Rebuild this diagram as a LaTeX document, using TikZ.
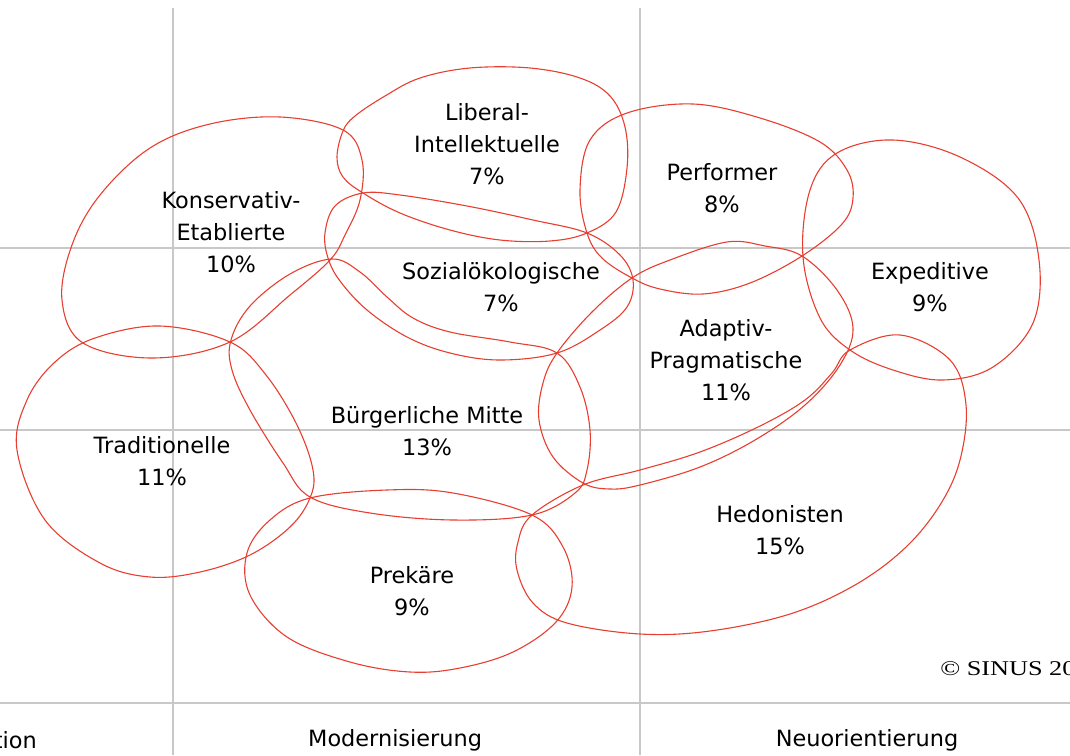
\documentclass[tikz,border=0pt]{standalone}
\usepackage{fontspec}
\setmainfont{DejaVu Sans}
\newfontfamily\copyfont{Liberation Serif}
\usepackage{tikz}
\usetikzlibrary{positioning,calc}

\definecolor{milieured}{RGB}{232,62,48}
\definecolor{gridgray}{RGB}{200,200,200}

\tikzset{
    milieu/.style={draw=milieured, line width=1.1pt, smooth cycle, tension=0.6},
    axis/.style={draw=gridgray, line width=1.6pt},
    lbl/.style={align=center, inner sep=0pt, font=\fontsize{22.4}{32}\selectfont},
    axislbl/.style={inner sep=0pt, font=\fontsize{22.4}{26}\selectfont}
}

\begin{document}
\begin{tikzpicture}[x=1pt, y=-1pt]
    \useasboundingbox (0,0) rectangle (1070,755);
    \clip (0,0) rectangle (1070,755);

    % grid
    \draw[axis] (173,8) -- (173,755);
    \draw[axis] (640,8) -- (640,755);
    \draw[axis] (0,248) -- (1070,248);
    \draw[axis] (0,430) -- (1070,430);
    \draw[axis] (0,703) -- (1070,703);

    % milieus
    %Konservativ-Etablierte
    \draw[milieu] plot coordinates {(280,117) (343,130) (362,160) (360,200) (345,235) (330,260) (290,295) (230,342) (153,358) (83,343) (62,300) (72,245) (100,195) (150,148) (210,124)};
    %Liberal-Intellektuelle
    \draw[milieu] plot coordinates {(337,157) (343,131) (355,116) (385,96) (420,78) (470,68) (530,68) (580,78) (610,96) (625,127) (627,168) (616,212) (587,233) (550,241) (500,240) (450,230) (400,213) (363,193) (343,177)};
    %Performer
    \draw[milieu] plot coordinates {(587,233) (580,190) (590,140) (627,113) (693,104) (760,118) (820,142) (847,170) (853,198) (842,224) (802,256) (750,283) (703,294) (660,289) (632,278) (602,258)};
    %Expeditive
    \draw[milieu] plot coordinates {(837,153) (893,140) (960,157) (1018,198) (1039,260) (1033,323) (993,367) (943,380) (893,370) (850,350) (820,318) (803,257) (810,190)};
    %Sozialoekologische
    \draw[milieu] plot coordinates {(325,233) (335,206) (363,193) (400,195) (467,206) (533,220) (587,233) (620,255) (633,280) (627,307) (600,330) (557,353) (500,360) (450,353) (407,337) (367,310) (340,281) (328,258)};
    %Adaptiv-Pragmatische
    \draw[milieu] plot coordinates {(557,353) (592,312) (632,278) (670,260) (727,242) (765,246) (802,256) (837,290) (853,328) (840,365) (805,405) (755,440) (700,467) (640,485) (610,489) (583,483) (553,457) (539,420) (543,383)};
    %Buergerliche Mitte
    \draw[milieu] plot coordinates {(332,259) (360,272) (387,297) (413,318) (450,332) (510,342) (557,353) (580,387) (590,430) (587,470) (575,493) (532,515) (453,520) (370,513) (310,497) (283,463) (250,410) (232,370) (231,340) (250,306) (290,274)};
    %Traditionelle
    \draw[milieu] plot coordinates {(160,326) (230,342) (266,375) (297,425) (313,470) (310,498) (290,527) (250,555) (200,572) (150,577) (100,563) (45,520) (17,450) (27,400) (55,362) (95,338)};
    %Prekaere
    \draw[milieu] plot coordinates {(310,498) (387,490) (453,493) (532,515) (563,547) (572,587) (556,622) (513,652) (460,668) (410,672) (350,662) (287,637) (250,595) (247,553) (270,520)};
    %Hedonisten
    \draw[milieu] plot coordinates {(850,350) (900,335) (950,360) (966,405) (960,460) (940,505) (905,548) (855,585) (790,614) (710,631) (640,634) (567,623) (533,603) (517,570) (518,542) (532,515) (583,485) (640,470) (700,452) (760,426) (805,400) (832,373)};

    % labels
    \node[lbl] (konservativ) at (231,232) {Konservativ-\\Etablierte\\10\%};
    \node[lbl] (liberal) at (487,144) {Liberal-\\Intellektuelle\\7\%};
    \node[lbl] (performer) at (722,188) {Performer\\8\%};
    \node[lbl] (sozial) at (501,287) {Sozialökologische\\7\%};
    \node[lbl] (expeditive) at (930,287) {Expeditive\\9\%};
    \node[lbl] (adaptiv) at (726,360) {Adaptiv-\\Pragmatische\\11\%};
    \node[lbl] (mitte) at (427,431) {Bürgerliche Mitte\\13\%};
    \node[lbl] (traditionelle) at (162,461) {Traditionelle\\11\%};
    \node[lbl] (hedonisten) at (780,530) {Hedonisten\\15\%};
    \node[lbl] (prekaere) at (412,591) {Prekäre\\9\%};

    \node[anchor=west, inner sep=0pt, xscale=1.25, transform shape, font=\copyfont\fontsize{21}{22}\selectfont] (sinus) at (940,669) {© SINUS 2018};

    % axis captions
    \node[axislbl, anchor=east] (tradition) at (37,740) {Tradition};
    \node[axislbl, anchor=west] (modern) at (308,740) {Modernisierung};
    \node[axislbl] (neu) at (867,740) {Neuorientierung};
\end{tikzpicture}
\end{document}
